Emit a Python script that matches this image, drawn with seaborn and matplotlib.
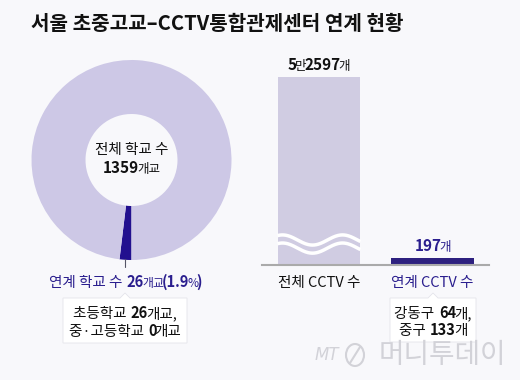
import numpy as np
import seaborn as sns
import matplotlib.pyplot as plt
from matplotlib.offsetbox import TextArea, HPacker, AnnotationBbox
from matplotlib.patches import Polygon, Ellipse
from matplotlib.transforms import blended_transform_factory

# --- data ---
title = '서울 초중고교–CCTV통합관제센터 연계 현황'
school_parts = ['연계 학교', '미연계 학교']
school_counts = [26, 1333]
school_total = 1359
elem_linked = 26
midhigh_linked = 0
cctv_labels = ['전체 CCTV 수', '연계 CCTV 수']
cctv_counts = [52597, 197]
districts = ['강동구', '중구']
district_counts = [64, 133]

BG = '#f8f8fb'
LIGHT = '#cdc8e6'
DARK = '#22108f'
NAVY = '#2a1e8e'
INK = '#111111'

sns.set_style('white')
plt.rcParams['font.family'] = ['Noto Sans CJK KR', 'DejaVu Sans']

W, H = 520, 380
fig = plt.figure(figsize=(5.2, 3.8), dpi=100, facecolor=BG)


def rich(parts, color, size):
    # parts: (text, bold, small)
    kids = []
    for t, bold, small in parts:
        kids.append(TextArea(t, textprops=dict(color=color, fontsize=size * (0.82 if small else 1.0),
                                               fontweight='bold' if bold else 'normal')))
    return HPacker(children=kids, pad=0, sep=-1.5, align='baseline')


def place(ax, box, xy, coords, offset=(0, 0), align=(0.5, 0.5)):
    ab = AnnotationBbox(box, xy, xycoords=coords, xybox=offset, boxcoords='offset points',
                        frameon=False, box_alignment=align, pad=0, annotation_clip=False)
    ax.add_artist(ab)


def won_parts(n):
    if n >= 10000:
        return [(str(n // 10000), True, False), ('만', False, True),
                (f'{n % 10000:04d}', True, False), ('개', False, True)]
    return [(str(n), True, False), ('개', False, True)]


# --- donut ---
ax_pie = fig.add_axes([31.5 / W, (H - 260) / H, 200 / W, 200 / H])
ax_pie.pie(school_counts, colors=[DARK, LIGHT], startangle=270, counterclock=False,
           radius=1, wedgeprops=dict(width=0.54, linewidth=0))
ax_pie.set_xlim(-1, 1)
ax_pie.set_ylim(-1, 1)
ax_pie.set_facecolor('none')

ax_pie.text(0, 0.10, '전체 학교 수', ha='center', va='center', fontsize=10.5, color=INK)
place(ax_pie, rich([(f'{school_total}', True, False), ('개교', False, True)], INK, 11),
      (0, -0.08), 'data')

mid = np.deg2rad(270 - 360 * school_counts[0] / school_total / 2)
lx = np.cos(mid)
ax_pie.plot([lx, lx], [-0.99, -1.07], color='#555566', lw=0.8, clip_on=False)
pct = school_counts[0] / school_total * 100
place(ax_pie, rich([('연계 학교 수  ', False, False), (f'{school_counts[0]}', True, False),
                    ('개교', False, True), (f'({pct:.1f}', True, False), ('%', False, True),
                    (')', True, False)], NAVY, 10.5),
      (lx, -1.07), 'data', offset=(0, -11), align=(0.5, 0.5))

# --- bars ---
ax_bar = fig.add_axes([262.25 / W, (H - 265) / H, 227 / W, 188 / H])
ax_bar.set_facecolor('none')
sns.barplot(x=cctv_labels, y=cctv_counts, palette=[LIGHT, DARK], hue=cctv_labels,
            legend=False, width=0.73, ax=ax_bar, linewidth=0)
ax_bar.set_yscale('log')
ax_bar.set_ylim(160, cctv_counts[0])
ax_bar.set_xlim(-0.5, 1.5)
ax_bar.set_yticks([])
ax_bar.minorticks_off()
ax_bar.tick_params(axis='y', which='both', left=False, labelleft=False)
for s in ['top', 'right', 'left']:
    ax_bar.spines[s].set_visible(False)
ax_bar.spines['bottom'].set_color('#aaaaaa')
ax_bar.spines['bottom'].set_linewidth(1.5)
ax_bar.tick_params(axis='x', length=0, pad=8, labelsize=10.5)
for lab, c in zip(ax_bar.get_xticklabels(), [INK, NAVY]):
    lab.set_color(c)

for i, (v, c) in enumerate(zip(cctv_counts, [INK, NAVY])):
    place(ax_bar, rich(won_parts(v), c, 11), (i, v), 'data', offset=(0, 3), align=(0.5, 0))

# wavy break marks on the tall bar
tr = blended_transform_factory(ax_bar.transData, ax_bar.transAxes)
xs = np.linspace(-0.365, 0.365, 200)
xp = 319.5 + xs * 113.5
for c in (0.133, 0.09):
    ys = c + 0.027 * np.cos(2 * np.pi * (xp - 283) / 60)
    ax_bar.plot(xs, ys, color='white', lw=2.5, transform=tr, solid_capstyle='butt')

# --- overlay: title, callouts, watermark ---
ov = fig.add_axes([0, 0, 1, 1])
ov.set_xlim(0, W)
ov.set_ylim(H, 0)
ov.set_axis_off()
ov.set_facecolor('none')

ov.text(31, 24, title, fontsize=14.5, fontweight='bold', color=INK, ha='left', va='center')


def callout(x0, x1, y0, y1, cx):
    pts = [(x0, y0), (cx - 5, y0), (cx, y0 - 5), (cx + 5, y0), (x1, y0), (x1, y1), (x0, y1)]
    ov.add_patch(Polygon(pts, closed=True, facecolor='white', edgecolor='#e4e4ea', lw=0.6))


callout(63, 187, 298, 343, 125)
place(ov, rich([('초등학교  ', False, False), (f'{elem_linked}', True, False), ('개교,', False, False)],
               INK, 10.5), (125, 313), 'data')
place(ov, rich([('중·고등학교  ', False, False), (f'{midhigh_linked}', True, False), ('개교', False, False)],
               INK, 10.5), (125, 331), 'data')

callout(390, 476, 298, 342, 433)
place(ov, rich([(f'{districts[0]}  ', False, False), (f'{district_counts[0]}', True, False), ('개,', False, False)],
               INK, 10.5), (433, 313), 'data')
place(ov, rich([(f'{districts[1]}  ', False, False), (f'{district_counts[1]}', True, False), ('개', False, False)],
               INK, 10.5), (433, 330), 'data')

WM = '#d2d2d8'
ov.text(327, 355, 'MT', fontsize=12, style='italic', color=WM, ha='center', va='center',
        family=['DejaVu Sans'])
ov.add_patch(Ellipse((355, 355), 18, 22, fill=False, edgecolor=WM, lw=1.5))
ov.plot([350, 360], [363, 347], color=WM, lw=1.5)
ov.text(442, 355, '머니투데이', fontsize=20, color=WM, ha='center', va='center', fontweight='light')

fig.savefig('out.png', dpi=100, facecolor=BG)
